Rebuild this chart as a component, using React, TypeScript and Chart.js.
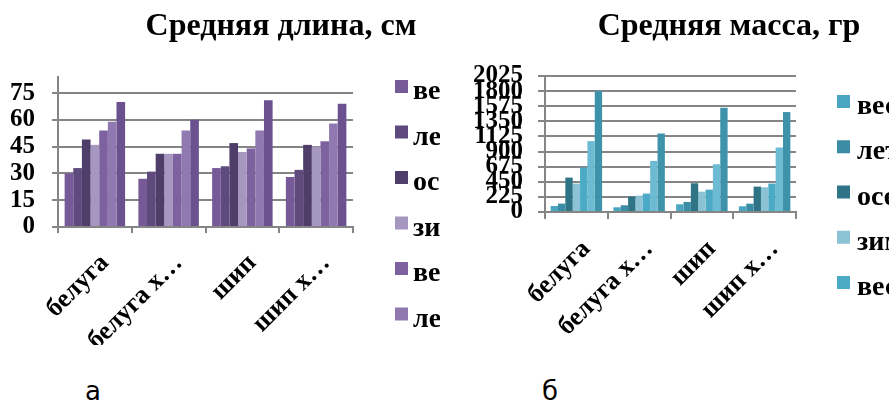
import React, { useEffect, useRef } from "react";
import { Chart, registerables } from "chart.js";

Chart.register(...registerables);

// ---------- data ----------
const categories = ["белуга", "белуга х…", "шип", "шип х…"];
const seriesNames = ["весна", "лето", "осень", "зима", "весна", "лето", "осень"];

const lengthTitle = "Средняя длина, см";
const length1 = [30, 27, 33, 28];
const length2 = [33, 31, 34, 32];
const length3 = [49, 41, 47, 46];
const length4 = [46, 41, 42, 45];
const length5 = [54, 41, 44, 48];
const length6 = [59, 54, 54, 58];
const length7 = [70, 60, 71, 69];
const lengthTicks = [0, 15, 30, 45, 60, 75];

const massTitle = "Средняя масса, гр";
const mass1 = [90, 70, 115, 85];
const mass2 = [125, 100, 150, 124];
const mass3 = [512, 229, 428, 378];
const mass4 = [423, 244, 303, 368];
const mass5 = [662, 274, 333, 423];
const mass6 = [1055, 761, 711, 960];
const mass7 = [1800, 1169, 1552, 1488];
const massTicks = [0, 225, 450, 675, 900, 1125, 1350, 1575, 1800, 2025];

const purpleColors = ["#765a97", "#5f4a7e", "#4f3d6a", "#a597bf", "#7e62a0", "#9079b1", "#6b528f"];
const tealColors = ["#4aa5c2", "#3b8da5", "#2f7387", "#8bc2d4", "#4baac6", "#6dbad3", "#3e93ab"];

const SERIF = "'Liberation Serif', 'Times New Roman', serif";
const GRID = "#858585";

type Spec = {
  title: string;
  titleX: number;
  values: number[][];
  colors: string[];
  ticks: number[];
  yMax: number;
  width: number;
  height: number;
  padRight: number;
  padTop: number;
  yWidth: number;
  xHeight: number;
  tickLen: number;
  yPad: number;
  legendBoxX: number;
  legendTextX: number;
  legendTop: number;
  legendStep: number;
  legendClip: number;
};

function BarPanel({ spec, left }: { spec: Spec; left: number }) {
  const ref = useRef<HTMLCanvasElement>(null);
  useEffect(() => {
    if (!ref.current) return;
    const s = spec;
    const decor = {
      id: "decor",
      afterDraw(chart: any) {
        const ctx = chart.ctx;
        ctx.save();
        ctx.fillStyle = "#000";
        ctx.font = `bold 32px ${SERIF}`;
        ctx.textAlign = "center";
        ctx.textBaseline = "alphabetic";
        ctx.fillText(s.title, s.titleX, 35);
        // legend region (clipped like the original chart frame)
        ctx.beginPath();
        ctx.rect(s.legendBoxX - 5, 0, s.width, s.legendClip);
        ctx.clip();
        ctx.font = `bold 28px ${SERIF}`;
        ctx.textAlign = "left";
        chart.data.datasets.forEach((ds: any, i: number) => {
          const top = s.legendTop + i * s.legendStep;
          ctx.fillStyle = ds.backgroundColor;
          ctx.fillRect(s.legendBoxX, top, 13, 13);
          ctx.fillStyle = "#000";
          ctx.fillText(ds.label, s.legendTextX, top + 19);
        });
        ctx.restore();
      },
    };
    const chart = new Chart(ref.current, {
      type: "bar",
      data: {
        labels: categories,
        datasets: s.values.map((v, i) => ({
          label: seriesNames[i],
          data: v,
          backgroundColor: s.colors[i],
          borderWidth: 0,
          categoryPercentage: 0.82,
          barPercentage: 1.0,
        })),
      },
      options: {
        animation: false,
        responsive: false,
        maintainAspectRatio: false,
        layout: { padding: { left: 0, right: s.padRight, top: s.padTop, bottom: 0 } },
        plugins: { legend: { display: false }, title: { display: false }, tooltip: { enabled: false } },
        scales: {
          x: {
            grid: {
              offset: true,
              drawOnChartArea: false,
              drawTicks: true,
              tickLength: s.tickLen,
              color: GRID,
              lineWidth: 2,
            },
            border: { color: GRID, width: 2 },
            ticks: {
              autoSkip: false,
              maxRotation: 45,
              minRotation: 45,
              color: "#000",
              padding: 15,
              labelOffset: 10,
              font: { family: SERIF, size: 26, weight: "bold" },
            },
            afterFit(scale: any) {
              scale.height = s.xHeight;
            },
          },
          y: {
            min: 0,
            max: s.yMax,
            afterBuildTicks(scale: any) {
              scale.ticks = s.ticks.map((v) => ({ value: v }));
            },
            grid: { color: GRID, lineWidth: 2, tickLength: s.tickLen, drawTicks: true },
            border: { color: GRID, width: 2 },
            ticks: {
              autoSkip: false,
              color: "#000",
              padding: s.yPad,
              font: { family: SERIF, size: 25, weight: "bold" },
              callback: (v: any) => String(v),
            },
            afterFit(scale: any) {
              scale.width = s.yWidth;
            },
          },
        },
      },
      plugins: [decor],
    });
    return () => chart.destroy();
  }, [spec]);
  return (
    <canvas
      ref={ref}
      width={spec.width}
      height={spec.height}
      style={{ position: "absolute", left, top: 0, width: spec.width, height: spec.height }}
    />
  );
}

const lengthSpec: Spec = {
  title: lengthTitle,
  titleX: 281,
  values: [length1, length2, length3, length4, length5, length6, length7],
  colors: purpleColors,
  ticks: lengthTicks,
  yMax: 84,
  width: 440,
  height: 345,
  padRight: 87,
  padTop: 77,
  yWidth: 58,
  xHeight: 118,
  tickLen: 6,
  yPad: 17,
  legendBoxX: 395,
  legendTextX: 413,
  legendTop: 80,
  legendStep: 45.5,
  legendClip: 340,
};

const massSpec: Spec = {
  title: massTitle,
  titleX: 284,
  values: [mass1, mass2, mass3, mass4, mass5, mass6, mass7],
  colors: tealColors,
  ticks: massTicks,
  yMax: 2025,
  width: 444,
  height: 345,
  padRight: 93,
  padTop: 76,
  yWidth: 100,
  xHeight: 133,
  tickLen: 7,
  yPad: 15,
  legendBoxX: 392,
  legendTextX: 412,
  legendTop: 95,
  legendStep: 45.25,
  legendClip: 316,
};

export default function App() {
  const capStyle: React.CSSProperties = {
    position: "absolute",
    top: 376,
    fontFamily: "'DejaVu Sans', sans-serif",
    fontSize: 26,
    lineHeight: "30px",
    color: "#000",
  };
  return (
    <div style={{ position: "absolute", left: 0, top: 0, width: 889, height: 404, background: "#fff", overflow: "hidden" }}>
      <BarPanel spec={lengthSpec} left={0} />
      <BarPanel spec={massSpec} left={445} />
      <div style={{ ...capStyle, left: 85 }}>а</div>
      <div style={{ ...capStyle, left: 542 }}>б</div>
    </div>
  );
}
